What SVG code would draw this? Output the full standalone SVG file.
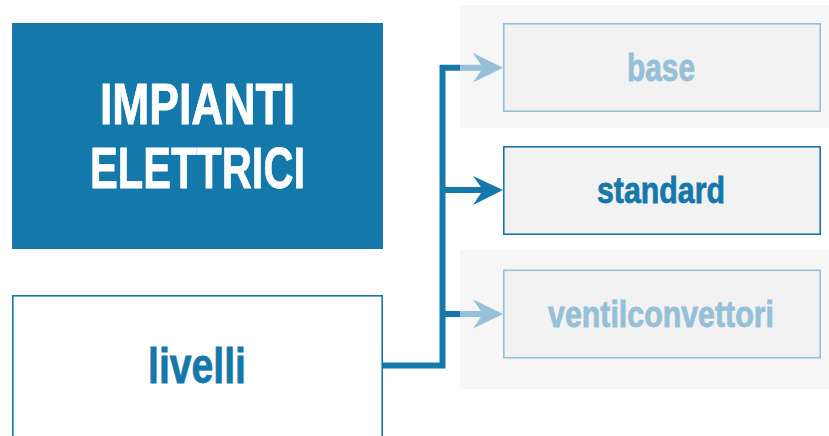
<svg xmlns="http://www.w3.org/2000/svg" width="829" height="436" viewBox="0 0 829 436">
<defs>
<style>
.t{font-family:"Liberation Sans",Arial,sans-serif;font-weight:bold;stroke-width:0.8;}
.dk{fill:#1478AA;stroke:#1478AA;}
.lt{fill:#95C0D8;stroke:#95C0D8;}
.wh{fill:#FFFFFF;stroke:#FFFFFF;}
.box{fill:#F2F2F2;stroke-width:1.6;}
</style>
</defs>
<rect x="0" y="0" width="829" height="436" fill="#FFFFFF"/>
<g id="panels">
<rect x="460" y="5" width="369" height="123" fill="#F6F6F6"/>
<rect x="460" y="250" width="369" height="139" fill="#F6F6F6"/>
</g>
<g id="title">
<rect x="12" y="23" width="371" height="226" fill="#1478AA"/>
<text class="t wh" x="100" y="124" font-size="57" textLength="195" lengthAdjust="spacingAndGlyphs">IMPIANTI</text>
<text class="t wh" x="90" y="188" font-size="57" textLength="215" lengthAdjust="spacingAndGlyphs">ELETTRICI</text>
</g>
<g id="livelli">
<rect x="12.8" y="295.8" width="369.4" height="145" fill="#FFFFFF" stroke="#1478AA" stroke-width="1.6"/>
<text class="t dk" x="148" y="383" font-size="50" textLength="98" lengthAdjust="spacingAndGlyphs">livelli</text>
</g>
<g id="connectors">
<polyline points="382,365.5 442.5,365.5 442.5,67.8 460,67.8" fill="none" stroke="#1478AA" stroke-width="6"/>
<line x1="442.5" y1="190" x2="485" y2="190" stroke="#1478AA" stroke-width="6"/>
<line x1="442.5" y1="314" x2="460" y2="314" stroke="#1478AA" stroke-width="6"/>
<line x1="460" y1="67.8" x2="485" y2="67.8" stroke="#95C0D8" stroke-width="6"/>
<line x1="460" y1="314" x2="485" y2="314" stroke="#95C0D8" stroke-width="6"/>
<path d="M473,53 L503,67.8 L473,82.5 L483,67.8 Z" fill="#95C0D8"/>
<path d="M473,176 L503,190 L473,205 L483,190 Z" fill="#1478AA"/>
<path d="M473,299.5 L503,314 L473,328.5 L483,314 Z" fill="#95C0D8"/>
</g>
<g id="base">
<rect class="box" x="503.8" y="23.8" width="316.4" height="87.4" stroke="#95C0D8"/>
<text class="t lt" x="627" y="81" font-size="38" textLength="68" lengthAdjust="spacingAndGlyphs">base</text>
</g>
<g id="standard">
<rect class="box" x="503.8" y="146.8" width="316.4" height="87.4" stroke="#1478AA"/>
<text class="t dk" x="597" y="203.3" font-size="37" textLength="128" lengthAdjust="spacingAndGlyphs">standard</text>
</g>
<g id="ventilconvettori">
<rect class="box" x="503.8" y="270.3" width="316.4" height="87.4" stroke="#95C0D8"/>
<text class="t lt" x="548" y="326.7" font-size="37" textLength="226" lengthAdjust="spacingAndGlyphs">ventilconvettori</text>
</g>
</svg>
